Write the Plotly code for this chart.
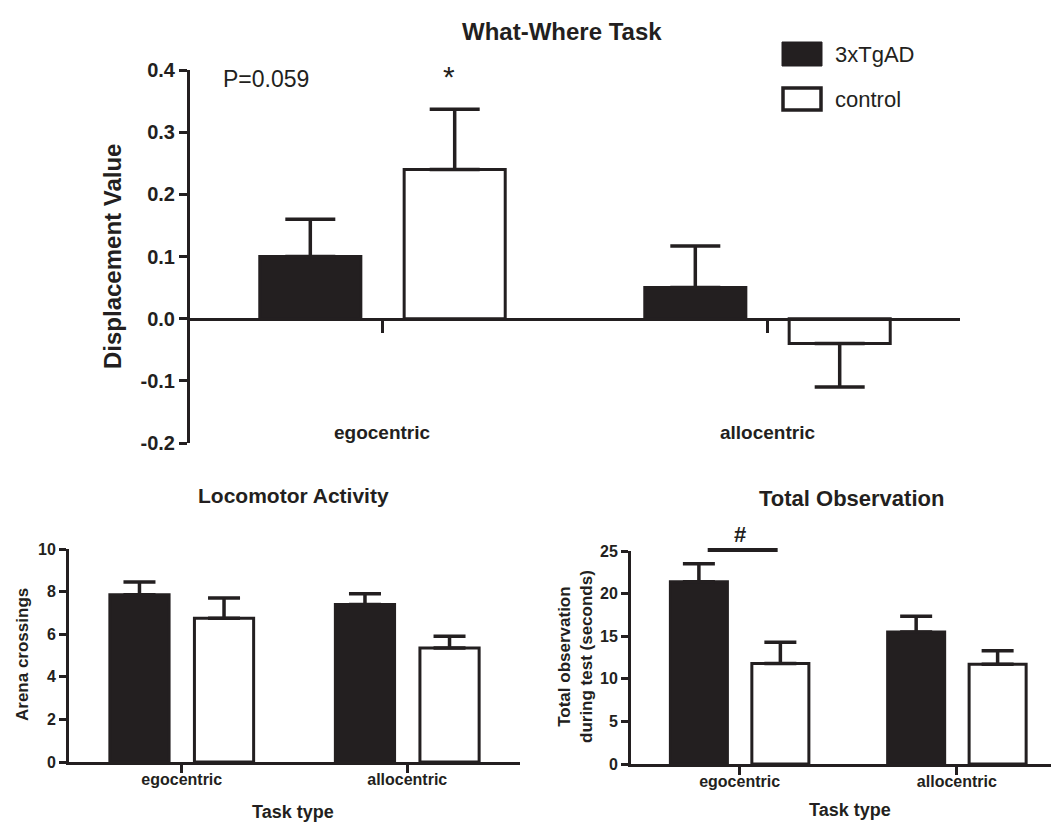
import plotly.graph_objects as go

# ---------------- data ----------------
categories = ["egocentric", "allocentric"]
group_names = ["3xTgAD", "control"]

disp_tg = [0.10, 0.05]
disp_tg_err = [0.06, 0.067]
disp_ctrl = [0.24, -0.04]
disp_ctrl_err = [0.097, 0.07]
disp_ticks = [-0.2, -0.1, 0.0, 0.1, 0.2, 0.3, 0.4]

loco_tg = [7.85, 7.4]
loco_tg_err = [0.6, 0.5]
loco_ctrl = [6.75, 5.35]
loco_ctrl_err = [0.95, 0.55]

obs_tg = [21.4, 15.5]
obs_tg_err = [2.1, 1.85]
obs_ctrl = [11.8, 11.7]
obs_ctrl_err = [2.5, 1.6]

# page body has an 8px default margin: the figure is sized to fit inside it
OFF = 8
W, H = 1059 - OFF, 824 - OFF
FONT = "Liberation Sans, Arial, sans-serif"
INK = "#231f20"


def px(x):
    return (x - OFF) / W


def py(y):
    return 1 - (y - OFF) / H


def bar(vals, errs, fill, name, xa, ya, capw):
    plus = [e if v >= 0 else 0 for v, e in zip(vals, errs)]
    minus = [e if v < 0 else 0 for v, e in zip(vals, errs)]
    return go.Bar(
        x=categories, y=vals, name=name, xaxis=xa, yaxis=ya,
        marker=dict(color=fill, line=dict(color=INK, width=3)),
        error_y=dict(type="data", array=plus, arrayminus=minus, symmetric=False,
                     color=INK, thickness=3.5, width=capw),
        showlegend=False,
    )


fig = go.Figure()
fig.add_trace(bar(disp_tg, disp_tg_err, INK, group_names[0], "x", "y", 25))
fig.add_trace(bar(disp_ctrl, disp_ctrl_err, "white", group_names[1], "x", "y", 25))
fig.add_trace(bar(loco_tg, loco_tg_err, INK, group_names[0], "x2", "y2", 16))
fig.add_trace(bar(loco_ctrl, loco_ctrl_err, "white", group_names[1], "x2", "y2", 16))
fig.add_trace(bar(obs_tg, obs_tg_err, INK, group_names[0], "x3", "y3", 16))
fig.add_trace(bar(obs_ctrl, obs_ctrl_err, "white", group_names[1], "x3", "y3", 16))

top_ydom = [py(443), py(70)]
zero_pos = top_ydom[0] + (0.2 / 0.6) * (top_ydom[1] - top_ydom[0])

axis_common = dict(showline=True, linecolor=INK, linewidth=3, ticks="outside",
                   tickcolor=INK, tickwidth=3, showgrid=False, zeroline=False,
                   automargin=False, fixedrange=True)

fig.update_layout(
    width=W, height=H, template="none",
    margin=dict(l=0, r=0, t=0, b=0),
    paper_bgcolor="white", plot_bgcolor="rgba(0,0,0,0)",
    font=dict(family=FONT, color=INK),
    barmode="group", bargap=0.25, bargroupgap=0.3,
    showlegend=False,
    xaxis=dict(axis_common, domain=[px(190), px(960)], range=[-0.5, 1.5],
               anchor="free", position=zero_pos, ticklen=12, showticklabels=False),
    yaxis=dict(axis_common, domain=top_ydom, range=[-0.2, 0.4],
               tickvals=disp_ticks, ticktext=[f"{v:.1f}" for v in disp_ticks],
               ticklen=8, anchor="x",
               tickfont=dict(size=20, weight="bold", family=FONT)),
    xaxis2=dict(axis_common, domain=[px(69), px(520)], range=[-0.5, 1.5],
                anchor="y2", ticklen=8, ticklabelstandoff=-7,
                tickfont=dict(size=16, weight="bold", family=FONT)),
    yaxis2=dict(axis_common, domain=[py(762), py(549)], range=[0, 10], dtick=2,
                ticklen=7, anchor="x2",
                tickfont=dict(size=16, weight="bold", family=FONT)),
    xaxis3=dict(axis_common, domain=[px(631), 1.0], range=[-0.5, 1.47],
                anchor="y3", ticklen=8, ticklabelstandoff=-7,
                tickfont=dict(size=16, weight="bold", family=FONT)),
    yaxis3=dict(axis_common, domain=[py(764), py(551)], range=[0, 25], dtick=5,
                ticklen=7, anchor="x3",
                tickfont=dict(size=16, weight="bold", family=FONT)),
)

ann = []


def text(x, y, s, size, bold=True, xref="paper", angle=0, xanchor="center",
         family=FONT, xshift=0):
    ann.append(dict(x=x, y=y, xref=xref, yref="paper", text=s, showarrow=False,
                    xanchor=xanchor, yanchor="middle", textangle=angle, xshift=xshift,
                    font=dict(size=size, family=family, color=INK,
                              weight="bold" if bold else "normal")))


# top panel
text(px(562), py(31), "What-Where Task", 24)
text(px(266), py(79), "P=0.059", 23, bold=False)
text(categories[0], py(76), "*", 30, bold=False, xref="x", xshift=66)
text(px(112), py(257), "Displacement Value", 24, angle=-90)
for c in categories:
    text(c, py(432), c, 19, xref="x")

# legend drawn as boxes + labels
shapes = [
    dict(type="rect", xref="paper", yref="paper", x0=px(782), x1=px(822), y0=py(66), y1=py(42),
         fillcolor=INK, line=dict(color=INK, width=1)),
    dict(type="rect", xref="paper", yref="paper", x0=px(783), x1=px(821), y0=py(110), y1=py(88),
         fillcolor="white", line=dict(color=INK, width=3.5)),
]
text(px(833), py(54), group_names[0], 22, bold=False, xanchor="left")
text(px(833), py(99), group_names[1], 22, bold=False, xanchor="left")

# bottom-left panel
text(px(293), py(495), "Locomotor Activity", 21)
text(px(22), py(655), "Arena crossings", 17, angle=-90)
text(px(293), py(812), "Task type", 18)

# bottom-right panel
text(px(851), py(498), "Total Observation", 22)
text(px(575), py(657), "Total observation<br>during test (seconds)", 17, angle=-90)
text(px(850), py(810), "Task type", 18)
text(categories[0], py(534), "#", 22, xref="x3")
shapes.append(dict(type="line", xref="x3", yref="paper", x0=-0.147, x1=0.175,
                   y0=py(550), y1=py(550), line=dict(color=INK, width=4)))

fig.update_layout(annotations=ann, shapes=shapes)
fig.write_html("out.html")
